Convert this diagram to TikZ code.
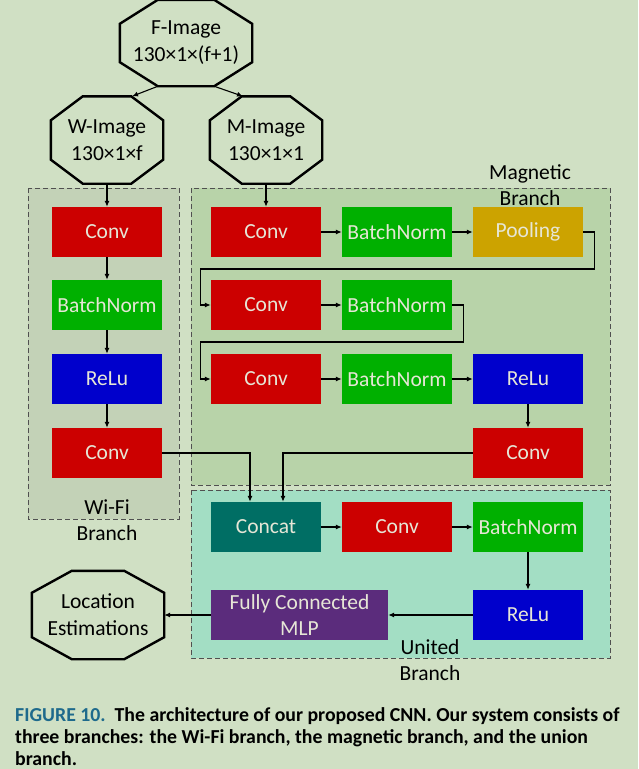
\documentclass[tikz,border=0pt]{standalone}
\usepackage{fontspec}
\setmainfont{Carlito}
\usetikzlibrary{arrows.meta}
\definecolor{pageGreen}{HTML}{D0E0C4}
\definecolor{wifiFill}{HTML}{C3D2B7}
\definecolor{magFill}{HTML}{B8D3A9}
\definecolor{uniFill}{HTML}{A3DEC4}
\definecolor{dashGray}{HTML}{505050}
\definecolor{convRed}{HTML}{CC0000}
\definecolor{bnGreen}{HTML}{00B000}
\definecolor{poolGold}{HTML}{CCA300}
\definecolor{reluBlue}{HTML}{0000CC}
\definecolor{concatTeal}{HTML}{006E64}
\definecolor{mlpPurple}{HTML}{5B2C7C}
\definecolor{layerText}{HTML}{E6E6D6}
\definecolor{figBlue}{HTML}{1E6A8C}
\tikzset{
  layer/.style={minimum width=110pt, minimum height=50pt, inner sep=0pt,
    text=layerText, font=\fontsize{21.5}{26}\selectfont, align=center},
  conv/.style={layer, fill=convRed},
  bnorm/.style={layer, fill=bnGreen},
  pool/.style={layer, fill=poolGold},
  relu/.style={layer, fill=reluBlue},
  % octagon: plain rectangle node, corners cut by #1 (across) and #2 (down)
  octa/.style 2 args={rectangle, inner sep=0pt, align=center,
    font=\fontsize{21.5}{27}\selectfont,
    append after command={\pgfextra{\draw[line width=2.4pt, line join=miter]
      ([xshift=#1]\tikzlastnode.north west) -- ([xshift=-#1]\tikzlastnode.north east)
      -- ([yshift=-#2]\tikzlastnode.north east) -- ([yshift=#2]\tikzlastnode.south east)
      -- ([xshift=-#1]\tikzlastnode.south east) -- ([xshift=#1]\tikzlastnode.south west)
      -- ([yshift=#2]\tikzlastnode.south west) -- ([yshift=-#2]\tikzlastnode.north west)
      -- cycle;}}},
  branchbox/.style={draw=dashGray, dash pattern=on 5pt off 3pt, line width=1pt},
  branchlabel/.style={align=center, font=\fontsize{21.5}{26}\selectfont},
  flow/.style={-{Latex[length=6pt,width=5pt]}, line width=1.1pt}
}
\begin{document}
\begin{tikzpicture}[x=1pt,y=-1pt]
\fill[pageGreen] (0,0) rectangle (638,769);
\useasboundingbox (0,0) rectangle (638,769);
% branch frames
\draw[branchbox, fill=wifiFill] (28,188) rectangle (179,519);
\draw[branchbox, fill=magFill] (191,188) rectangle (610,485);
\draw[branchbox, fill=uniFill] (191,490) rectangle (610,658);
\node[branchlabel] (wifilab) at (107,520) {Wi-Fi\\Branch};
\node[branchlabel] (maglab) at (530,185) {Magnetic\\Branch};
\node[branchlabel] (unilab) at (430,660) {United\\Branch};
% inputs
\node[octa={38pt}{24pt}, minimum width=132pt, minimum height=86pt] (fimg) at (186,43) {F-Image\\130×1×(f+1)};
\node[octa={32pt}{24pt}, minimum width=112pt, minimum height=87pt] (wimg) at (107,140) {W-Image\\130×1×f};
\node[octa={32pt}{24pt}, minimum width=112pt, minimum height=87pt] (mimg) at (266,140) {M-Image\\130×1×1};
\draw[flow] ([xshift=-28pt]fimg.south) -- ([xshift=25pt]wimg.north);
\draw[flow] ([xshift=28pt]fimg.south) -- ([xshift=-23pt]mimg.north);
% wi-fi branch
\node[conv] (wconv1) at (107,232) {Conv};
\node[bnorm] (wbn1) at (107,305) {BatchNorm};
\node[relu] (wrelu1) at (107,379) {ReLu};
\node[conv] (wconv2) at (107,453) {Conv};
\draw[flow] (wimg) -- (wconv1);
\draw[flow] (wconv1) -- (wbn1);
\draw[flow] (wbn1) -- (wrelu1);
\draw[flow] (wrelu1) -- (wconv2);
% magnetic branch
\node[conv] (mconv1) at (266,232) {Conv};
\node[bnorm] (mbn1) at (397,232) {BatchNorm};
\node[pool] (mpool) at (528,232) {Pooling};
\node[conv] (mconv2) at (266,305) {Conv};
\node[bnorm] (mbn2) at (397,305) {BatchNorm};
\node[conv] (mconv3) at (266,379) {Conv};
\node[bnorm] (mbn3) at (397,379) {BatchNorm};
\node[relu] (mrelu3) at (528,379) {ReLu};
\node[conv] (mconv4) at (528,453) {Conv};
\draw[flow] (mimg) -- (mconv1);
\draw[flow] (mconv1) -- (mbn1);
\draw[flow] (mbn1) -- (mpool);
\draw[flow] (mpool.east) -- ++(11,0) |- ([xshift=-10pt,yshift=36pt]mconv2.west) |- (mconv2.west);
\draw[flow] (mconv2) -- (mbn2);
\draw[flow] (mbn2.east) -- ++(11,0) |- ([xshift=-10pt,yshift=37pt]mconv3.west) |- (mconv3.west);
\draw[flow] (mconv3) -- (mbn3);
\draw[flow] (mbn3) -- (mrelu3);
\draw[flow] (mrelu3) -- (mconv4);
% united branch
\node[layer, fill=concatTeal] (concat) at (266,527) {Concat};
\node[conv] (uconv) at (397,527) {Conv};
\node[bnorm] (ubn) at (528,527) {BatchNorm};
\node[relu] (urelu) at (528,615) {ReLu};
\node[layer, fill=mlpPurple, minimum width=177pt] (mlp) at (299.5,615) {Fully Connected\\MLP};
\node[octa={40pt}{22pt}, minimum width=132pt, minimum height=88pt] (loc) at (98,615) {Location\\Estimations};
\draw[flow] (wconv2.east) -| ([xshift=-16pt]concat.north);
\draw[flow] (mconv4.west) -| ([xshift=17pt]concat.north);
\draw[flow] (concat) -- (uconv);
\draw[flow] (uconv) -- (ubn);
\draw[flow] (ubn) -- (urelu);
\draw[flow] (urelu) -- (mlp);
\draw[flow] (mlp) -- (loc);
% caption
\node[anchor=north west, inner sep=0pt, align=left, font=\bfseries\fontsize{19.8}{22}\selectfont] (caption) at (15,707)
  {{\color{figBlue}FIGURE 10.}\hspace{0.45em}The architecture of our proposed CNN. Our system consists of\\
   three branches: the Wi-Fi branch, the magnetic branch, and the union\\
   branch.};
\end{tikzpicture}
\end{document}
